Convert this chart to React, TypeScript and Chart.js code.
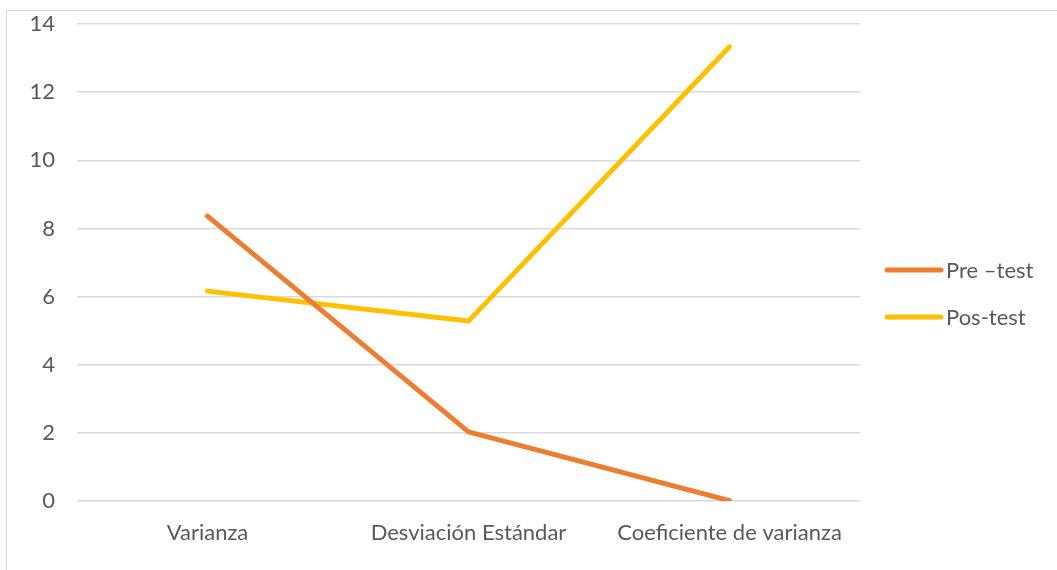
import React, { useEffect, useRef } from "react";
import { Chart, registerables } from "chart.js";

Chart.register(...registerables);

const categories = ["Varianza", "Desviación Estándar", "Coeficiente de varianza"];
const preTest = [8.36, 2.03, 0.01];
const posTest = [6.16, 5.28, 13.33];
const seriesNames = ["Pre –test", "Pos-test"];
const seriesColors = ["#ED7D31", "#FFC000"];

const FONT = "Lato, 'Open Sans', sans-serif";
const TEXT = "#595959";
const FS = 22;

const legendPlugin = {
  id: "customLegend",
  afterDraw(chart: any) {
    const ctx = chart.ctx;
    const x0 = chart.chartArea.right + 27;
    const ys = [270, 317];
    ctx.save();
    seriesNames.forEach((name, i) => {
      ctx.strokeStyle = seriesColors[i];
      ctx.lineWidth = 5;
      ctx.lineCap = "round";
      ctx.beginPath();
      ctx.moveTo(x0, ys[i]);
      ctx.lineTo(x0 + 54, ys[i]);
      ctx.stroke();
      ctx.fillStyle = TEXT;
      ctx.font = `${FS}px ${FONT}`;
      ctx.textAlign = "left";
      ctx.textBaseline = "middle";
      ctx.fillText(name, x0 + 59, ys[i] + 1);
    });
    ctx.restore();
  },
};

export default function App() {
  const ref = useRef<HTMLCanvasElement>(null);
  useEffect(() => {
    const chart = new Chart(ref.current!, {
      type: "line",
      data: {
        labels: categories,
        datasets: [
          {
            label: seriesNames[0],
            data: preTest,
            borderColor: seriesColors[0],
            backgroundColor: seriesColors[0],
            borderWidth: 5,
            borderCapStyle: "round",
            borderJoinStyle: "round",
            pointRadius: 0,
            tension: 0,
          },
          {
            label: seriesNames[1],
            data: posTest,
            borderColor: seriesColors[1],
            backgroundColor: seriesColors[1],
            borderWidth: 5,
            borderCapStyle: "round",
            borderJoinStyle: "round",
            pointRadius: 0,
            tension: 0,
          },
        ],
      },
      options: {
        responsive: false,
        animation: false,
        layout: { padding: { left: 0, right: 197, top: 24, bottom: 0 } },
        plugins: { legend: { display: false }, tooltip: { enabled: false } },
        scales: {
          x: {
            offset: true,
            grid: { display: false, drawTicks: false },
            border: { display: false },
            ticks: { color: TEXT, font: { family: FONT, size: FS }, padding: 19, maxRotation: 0 },
            afterFit: (s: any) => { s.height = 69; s.paddingLeft = 0; s.paddingRight = 0; },
          },
          y: {
            min: 0,
            max: 14,
            grid: { color: "#D9D9D9", lineWidth: 1.5, drawTicks: false },
            border: { display: false },
            ticks: { stepSize: 2, color: TEXT, font: { family: FONT, size: FS }, padding: 22 },
            afterFit: (s: any) => { s.width = 77; s.paddingTop = 0; s.paddingBottom = 0; },
          },
        },
      },
      plugins: [legendPlugin],
    });
    return () => chart.destroy();
  }, []);
  return (
    <div style={{ position: "fixed", left: 0, top: 0, width: 1057, height: 570, overflow: "hidden", background: "#fff" }}>
      <div style={{ position: "absolute", left: 6, top: 10, width: 1200, height: 700, border: "1.5px solid #D9D9D9" }} />
      <canvas ref={ref} width={1057} height={570} style={{ position: "absolute", left: 0, top: 0 }} />
    </div>
  );
}
